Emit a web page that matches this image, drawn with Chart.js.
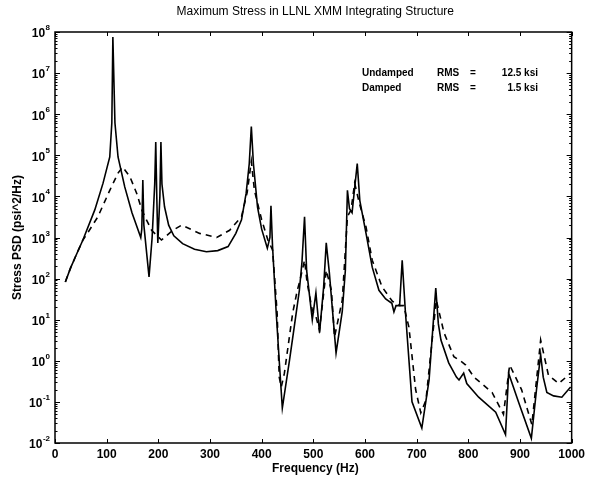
<!DOCTYPE html>
<html>
<head>
<meta charset="utf-8">
<script src="https://cdn.jsdelivr.net/npm/chart.js@4"></script>
<style>
  html, body { margin: 0; padding: 0; background: #fff; }
  #wrap { width: 589px; height: 480px; }
</style>
</head>
<body>
<div id="wrap"><canvas id="psd-chart" width="589" height="480"></canvas></div>
<script>
// Undamped response (solid)
const undampedFreq = [20, 30, 40, 54, 77, 93, 106, 110, 112, 116, 122, 135, 149, 166, 168,
    170, 172, 182, 188, 193, 195, 197, 199, 203, 205, 207, 212, 220, 230, 247, 270, 293, 315, 335, 350,
    361, 370, 376, 380, 384, 392, 400, 411, 416, 418, 421, 428, 434, 440, 454, 463, 473, 478, 483, 487,
    498, 505, 512, 520, 525, 531, 544, 556, 562, 566, 570, 575, 580, 585, 590, 602, 614, 627, 640, 652,
    656, 660, 667, 672, 678, 691, 710, 724, 737, 742, 747, 762, 777, 782, 791, 797, 820, 853, 872, 878,
    898, 922, 932, 940, 945, 952, 965, 981, 998];
const undampedPSD = [83, 180, 350, 870, 4700, 21000, 91000, 6.2e5, 7.6e7, 6.2e5, 91000, 17000, 4000, 1000, 1600,
    25000, 2000, 110, 1000, 20000, 2.1e5, 10000, 740, 10000, 2.1e5, 20000, 5600, 2000, 1100, 710, 520, 450, 480, 600, 1260,
    2700, 12000, 63000, 5.0e5, 63000, 5500, 1600, 550, 1000, 5900, 630, 16, 1, 0.071, 1.05, 6.6, 52, 250, 3200, 160,
    10, 45, 4.8, 63, 740, 140, 1.55, 16, 160, 14000, 5000, 4000, 16000, 63000, 7900, 1260, 190, 52, 32, 25,
    15.5, 22, 22, 280, 17, 0.1, 0.023, 0.34, 59, 7.9, 3.2, 0.89, 0.4, 0.34, 0.5, 0.28, 0.13, 0.056, 0.016, 0.5,
    0.093, 0.013, 0.2, 1.4, 0.4, 0.17, 0.14, 0.13, 0.23];

// Damped response (dashed)
const dampedFreq = [20, 30, 40, 54, 65, 83, 106, 122, 131, 145, 158, 168, 174, 187, 206, 228, 245, 280, 313, 338,
    361, 372, 380, 386, 400, 412, 421, 425, 430, 432, 434, 438, 444, 460, 469, 473, 483, 488, 498, 505, 512,
    525, 535, 541, 556, 566, 573, 580, 589, 602, 614, 633, 653, 668, 675, 685, 698, 708, 718, 738, 753,
    772, 788, 795, 811, 846, 868, 880, 903, 923, 940, 955, 975, 998];
const dampedPSD = [83, 180, 350, 870, 1400, 3200, 14000, 37000, 52000, 30000, 12000, 4700, 3200, 1500, 870, 1500, 2000, 1260, 1000, 1500,
    3200, 12600, 71000, 14000, 2700, 870, 500, 110, 14, 2.2, 0.4, 0.23, 0.5, 14.5, 52, 79, 280, 79, 17, 12, 5.6,
    160, 52, 3.8, 30, 3200, 4700, 21000, 6900, 1800, 280, 63, 28, 22, 22, 6.6, 0.2, 0.054, 0.11, 30, 4.8,
    1.26, 0.93, 0.79, 0.4, 0.17, 0.05, 0.79, 0.2, 0.028, 3.2, 0.45, 0.28, 0.5];

const xTicks = [0, 100, 200, 300, 400, 500, 600, 700, 800, 900, 1000];
const yTicks = [1e-2, 1e-1, 1e0, 1e1, 1e2, 1e3, 1e4, 1e5, 1e6, 1e7, 1e8];
const yTickExponents = ["-2", "-1", "0", "1", "2", "3", "4", "5", "6", "7", "8"];

const chartTitle = "Maximum Stress in LLNL XMM Integrating Structure";
const xTitle = "Frequency (Hz)";
const yTitle = "Stress PSD (psi^2/Hz)";
const rmsNotes = [
    ["Undamped", "RMS", "=", "12.5 ksi"],
    ["Damped", "RMS", "=", "1.5 ksi"]
];

const FONT = "'Liberation Sans', Arial, Helvetica, sans-serif";

function toPoints(xs, ys) {
    return xs.map((x, i) => ({ x: x, y: ys[i] }));
}

// Frame, inward ticks, y labels with exponents, titles and RMS notes
const decorations = {
    id: "decorations",
    afterDraw(chart) {
        const ctx = chart.ctx;
        const area = chart.chartArea;
        const xs = chart.scales.x;
        const ys = chart.scales.y;

        ctx.save();
        ctx.strokeStyle = "#000";
        ctx.lineWidth = 1.5;
        ctx.strokeRect(area.left, area.top, area.right - area.left, area.bottom - area.top);

        ctx.lineWidth = 1;
        ctx.beginPath();
        xTicks.forEach(v => {
            const px = Math.round(xs.getPixelForValue(v)) + 0.5;
            ctx.moveTo(px, area.bottom); ctx.lineTo(px, area.bottom - 4);
            ctx.moveTo(px, area.top); ctx.lineTo(px, area.top + 4);
        });
        yTicks.forEach((v, i) => {
            const py = Math.round(ys.getPixelForValue(v)) + 0.5;
            ctx.moveTo(area.left, py); ctx.lineTo(area.left + 5, py);
            ctx.moveTo(area.right, py); ctx.lineTo(area.right - 5, py);
            if (i < yTicks.length - 1) {
                for (let m = 2; m < 10; m++) {
                    const pm = Math.round(ys.getPixelForValue(v * m)) + 0.5;
                    ctx.moveTo(area.left, pm); ctx.lineTo(area.left + 2.5, pm);
                    ctx.moveTo(area.right, pm); ctx.lineTo(area.right - 2.5, pm);
                }
            }
        });
        ctx.stroke();

        ctx.fillStyle = "#000";

        // y tick labels: 10 with raised exponent
        yTicks.forEach((v, i) => {
            const py = ys.getPixelForValue(v);
            ctx.font = "bold 8px " + FONT;
            const expW = ctx.measureText(yTickExponents[i]).width;
            const expX = area.left - 5 - expW;
            ctx.textAlign = "left";
            ctx.textBaseline = "alphabetic";
            ctx.fillText(yTickExponents[i], expX, py - 2);
            ctx.font = "bold 12px " + FONT;
            ctx.textAlign = "right";
            ctx.textBaseline = "middle";
            ctx.fillText("10", expX - 0.5, py + 2);
        });

        // chart title
        ctx.font = "12px " + FONT;
        ctx.textAlign = "center";
        ctx.textBaseline = "middle";
        ctx.fillText(chartTitle, (area.left + area.right) / 2 + 2, 12);

        // x axis title
        ctx.font = "bold 12px " + FONT;
        ctx.fillText(xTitle, (area.left + area.right) / 2 + 2, 469);

        // y axis title
        ctx.save();
        ctx.translate(18, (area.top + area.bottom) / 2);
        ctx.rotate(-Math.PI / 2);
        ctx.fillText(yTitle, 0, 0);
        ctx.restore();

        // RMS notes
        ctx.font = "bold 10px " + FONT;
        ctx.textBaseline = "middle";
        rmsNotes.forEach((row, r) => {
            const py = 73 + r * 15;
            ctx.textAlign = "left";
            ctx.fillText(row[0], 362, py);
            ctx.fillText(row[1], 437, py);
            ctx.textAlign = "center";
            ctx.fillText(row[2], 473, py);
            ctx.textAlign = "right";
            ctx.fillText(row[3], 538, py);
        });
        ctx.restore();
    }
};

new Chart(document.getElementById("psd-chart").getContext("2d"), {
    type: "line",
    data: {
        datasets: [{
            label: "Undamped",
            data: toPoints(undampedFreq, undampedPSD),
            borderColor: "#000",
            borderWidth: 1.6,
            pointRadius: 0,
            tension: 0,
            fill: false
        }, {
            label: "Damped",
            data: toPoints(dampedFreq, dampedPSD),
            borderColor: "#000",
            borderWidth: 1.6,
            borderDash: [6, 5],
            pointRadius: 0,
            tension: 0,
            fill: false
        }]
    },
    options: {
        responsive: false,
        animation: false,
        layout: { padding: { left: 0, right: 16, top: 32, bottom: 0 } },
        plugins: {
            legend: { display: false },
            tooltip: { enabled: false }
        },
        scales: {
            x: {
                type: "linear",
                min: 0,
                max: 1000,
                afterBuildTicks: scale => { scale.ticks = xTicks.map(v => ({ value: v })); },
                afterFit: scale => { scale.height = 37; },
                grid: { display: false, drawTicks: false },
                border: { display: false },
                ticks: {
                    padding: 4,
                    maxRotation: 0,
                    color: "#000",
                    font: { family: FONT, size: 12, weight: "bold" },
                    callback: value => String(value)
                }
            },
            y: {
                type: "logarithmic",
                min: 1e-2,
                max: 1e8,
                afterBuildTicks: scale => { scale.ticks = yTicks.map(v => ({ value: v })); },
                afterFit: scale => { scale.width = 55; },
                grid: { display: false, drawTicks: false },
                border: { display: false },
                ticks: { display: false }
            }
        }
    },
    plugins: [decorations]
});
</script>
</body>
</html>
